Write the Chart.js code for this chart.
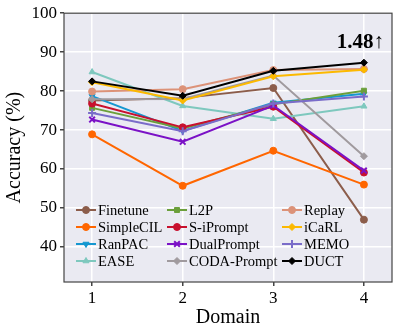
<!DOCTYPE html>
<html>
<head>
<meta charset="utf-8">
<script src="https://cdn.jsdelivr.net/npm/chart.js@4/dist/chart.umd.min.js"></script>
<style>
  html, body { margin: 0; padding: 0; background: #fff; }
  #wrap { width: 399px; height: 335px; }
</style>
</head>
<body>
<div id="wrap"><canvas id="myChart" width="399" height="335"></canvas></div>
<script>
// data
let domains = [1, 2, 3, 4];
let xTicks = [1, 2, 3, 4];
let yTicks = [40, 50, 60, 70, 80, 90, 100];

let finetune   = [77.6, 78.2, 80.8, 47.0];
let simpleCIL  = [68.9, 55.7, 64.7, 56.0];
let ranPAC     = [78.7, 69.8, 77.0, 79.3];
let ease       = [84.9, 76.2, 72.9, 76.1];
let l2p        = [75.7, 70.4, 76.6, 80.1];
let sIPrompt   = [76.8, 70.7, 76.0, 59.1];
let dualPrompt = [72.7, 67.0, 76.3, 59.6];
let codaPrompt = [77.9, 78.0, 84.0, 63.3];
let replay     = [79.9, 80.5, 85.4, 85.7];
let icarl      = [82.3, 77.6, 83.8, 85.5];
let memo       = [74.4, 69.7, 76.8, 78.6];
let duct       = [82.5, 78.8, 85.2, 87.3];

let gain = "1.48\u2191";

let serif = "'Liberation Serif', 'DejaVu Serif', serif";

function series(label, values, color, style, rot) {
  return {
    label: label,
    data: values.map((v, i) => ({ x: domains[i], y: v })),
    borderColor: color,
    backgroundColor: color,
    borderWidth: 2,
    pointStyle: style,
    pointRotation: rot || 0,
    pointRadius: style === "cross" || style === "crossRot" ? 4 : 3.5,
    pointBorderWidth: style === "cross" || style === "crossRot" ? 2 : 1,
    tension: 0,
  };
}

let datasets = [
  series("Finetune", finetune, "#8c5d4b", "circle"),
  series("SimpleCIL", simpleCIL, "#ff6600", "circle"),
  series("RanPAC", ranPAC, "#1597d0", "triangle", 180),
  series("EASE", ease, "#7ec8be", "triangle"),
  series("L2P", l2p, "#6b9f3b", "rect"),
  series("S-iPrompt", sIPrompt, "#c8102e", "circle"),
  series("DualPrompt", dualPrompt, "#7b12c6", "crossRot"),
  series("CODA-Prompt", codaPrompt, "#a09a9e", "rectRot"),
  series("Replay", replay, "#dc9278", "circle"),
  series("iCaRL", icarl, "#fcb900", "rectRot"),
  series("MEMO", memo, "#7a6cc9", "cross"),
  series("DUCT", duct, "#000000", "rectRot"),
];
// later series on top, like the original
datasets.forEach((d, i) => { d.order = datasets.length - i; });

let plotBack = {
  id: "plotBack",
  beforeDraw(chart) {
    let a = chart.chartArea, c = chart.ctx;
    c.save();
    c.fillStyle = "#eaeaf2";
    c.fillRect(a.left, a.top, a.right - a.left, a.bottom - a.top);
    c.restore();
  },
  afterDraw(chart) {
    let a = chart.chartArea, c = chart.ctx;
    c.save();
    c.strokeStyle = "#444";
    c.lineWidth = 1.2;
    c.strokeRect(a.left, a.top, a.right - a.left, a.bottom - a.top);

    // legend, three columns inside the plot
    let colX = [76, 167, 282];
    let rowY = [210, 227, 244, 261];
    c.font = "14.5px " + serif;
    c.textBaseline = "middle";
    c.textAlign = "left";
    chart.data.datasets.forEach((d, i) => {
      let x = colX[Math.floor(i / 4)], y = rowY[i % 4];
      c.strokeStyle = d.borderColor;
      c.fillStyle = d.backgroundColor;
      c.lineWidth = 2;
      c.beginPath();
      c.moveTo(x, y);
      c.lineTo(x + 20, y);
      c.stroke();
      c.lineWidth = d.pointBorderWidth;
      Chart.helpers.drawPoint(c, {
        pointStyle: d.pointStyle,
        radius: d.pointRadius,
        rotation: d.pointRotation,
        borderWidth: d.pointBorderWidth,
      }, x + 10, y);
      c.fillStyle = "#000";
      c.fillText(d.label, x + 22, y + 1);
    });

    c.font = "bold 21px " + serif;
    c.textAlign = "right";
    c.fillStyle = "#000";
    c.fillText(gain, 384, 43);
    c.restore();
  },
};

let myChart = document.getElementById("myChart").getContext("2d");

let accChart = new Chart(myChart, {
  type: "line",
  data: { datasets: datasets },
  options: {
    responsive: false,
    animation: false,
    layout: { padding: { left: 0, right: 7, top: 13, bottom: 0 } },
    plugins: {
      legend: { display: false },
      tooltip: { enabled: false },
    },
    scales: {
      x: {
        type: "linear",
        min: 0.69,
        max: 4.31,
        afterBuildTicks: (s) => { s.ticks = xTicks.map((v) => ({ value: v })); },
        afterFit: (s) => { s.height = 53; },
        grid: { color: "#ffffff", lineWidth: 1.5, tickColor: "#444", tickLength: 4 },
        border: { display: false },
        ticks: { color: "#000", font: { family: serif, size: 17 }, padding: 2, maxRotation: 0 },
        title: { display: true, text: "Domain", color: "#000", font: { family: serif, size: 20 }, padding: { top: 0, bottom: 5 } },
      },
      y: {
        min: 31,
        max: 100,
        afterBuildTicks: (s) => { s.ticks = yTicks.map((v) => ({ value: v })); },
        afterFit: (s) => { s.width = 64; },
        grid: { color: "#ffffff", lineWidth: 1.5, tickColor: "#444", tickLength: 4 },
        border: { display: false },
        ticks: { color: "#000", font: { family: serif, size: 17 }, padding: 3 },
        title: { display: true, text: "Accuracy (%)", color: "#000", font: { family: serif, size: 20 }, padding: { top: 3, bottom: 0 } },
      },
    },
  },
  plugins: [plotBack],
});
</script>
</body>
</html>
